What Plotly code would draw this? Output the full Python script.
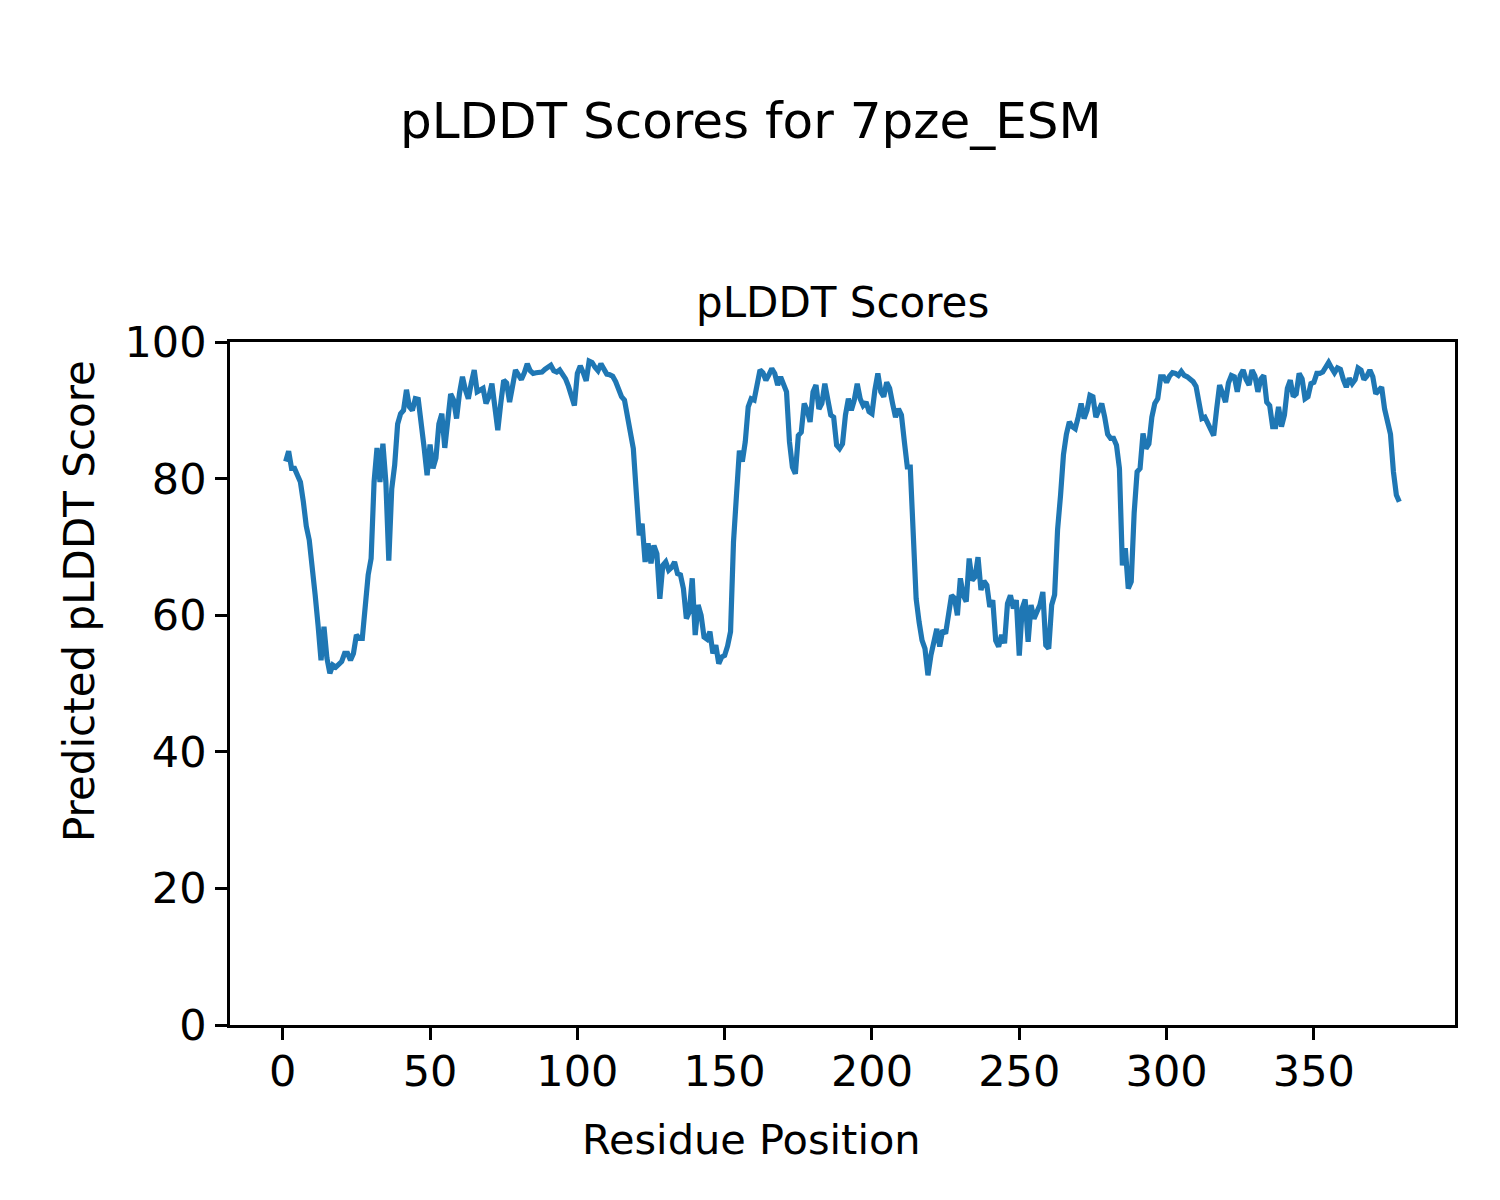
import plotly.graph_objects as go

residues = list(range(1, 380))
plddt = [
    82.5, 84.0, 81.5, 81.5, 80.5, 79.5, 76.6, 73.0, 71.0, 66.0,
    63.0, 58.5, 53.4, 58.3, 53.7, 51.5, 52.7, 52.4, 52.9, 53.2,
    54.4, 54.4, 53.4, 54.4, 57.1, 56.6, 56.6, 62.4, 65.9, 68.3,
    79.5, 84.5, 79.5, 85.1, 79.5, 68.0, 78.5, 82.0, 88.0, 89.5,
    90.0, 93.0, 90.5, 90.0, 91.7, 91.6, 88.5, 84.5, 80.5, 85.0,
    81.5, 83.0, 88.0, 89.5, 84.5, 89.0, 92.4, 91.5, 88.8, 92.5,
    94.9, 93.0, 91.7, 94.0, 95.9, 92.7, 93.0, 93.2, 91.0, 92.0,
    93.9, 90.0, 87.1, 91.0, 94.4, 94.0, 91.2, 93.5, 95.9, 95.2,
    94.5, 95.5, 96.8, 95.8, 95.4, 95.5, 95.6, 95.6, 96.0, 96.4,
    96.6, 95.8, 95.6, 95.9, 95.2, 94.6, 93.5, 92.3, 90.7, 95.4,
    96.5, 95.5, 94.3, 97.2, 97.0, 96.3, 95.8, 96.8, 96.0, 95.3,
    95.2, 95.0, 94.2, 93.0, 92.0, 91.5, 89.0, 86.5, 84.4, 78.0,
    71.7, 73.4, 67.8, 70.5, 67.6, 70.2, 69.0, 62.4, 67.3, 67.8,
    66.6, 67.0, 67.8, 66.1, 65.9, 63.9, 59.5, 60.5, 65.4, 57.1,
    61.5, 60.0, 56.8, 56.5, 57.6, 54.4, 55.6, 52.9, 53.9, 54.1,
    55.5, 57.6, 70.7, 77.5, 84.1, 82.5, 85.4, 90.5, 91.7, 91.5,
    93.5, 95.9, 95.5, 94.4, 95.2, 96.1, 95.4, 93.7, 94.9, 94.0,
    92.7, 85.4, 81.7, 80.7, 86.3, 86.8, 91.0, 90.0, 88.3, 92.7,
    93.7, 90.2, 91.0, 93.9, 91.7, 89.3, 89.0, 84.9, 84.4, 85.1,
    89.3, 91.7, 90.0, 91.5, 93.9, 91.7, 90.7, 91.2, 89.8, 89.5,
    93.0, 95.4, 92.7, 92.0, 94.1, 93.2, 91.0, 89.0, 90.2, 89.3,
    85.4, 81.7, 81.7, 72.7, 62.4, 59.0, 56.3, 55.1, 51.2, 54.1,
    56.0, 58.0, 55.4, 57.8, 57.3, 60.0, 62.9, 62.5, 60.0, 65.4,
    62.9, 62.0, 68.3, 65.1, 65.6, 68.5, 63.7, 65.0, 64.4, 61.2,
    62.2, 56.3, 55.4, 57.1, 55.9, 61.7, 62.9, 61.0, 62.2, 54.1,
    61.0, 62.3, 56.1, 61.5, 59.5, 60.5, 61.5, 63.4, 55.6, 55.1,
    61.5, 63.0, 72.5, 77.5, 83.5, 86.5, 88.3, 87.6, 87.3, 89.0,
    91.0, 88.8, 90.0, 92.2, 92.0, 89.0, 89.8, 91.0, 89.0, 86.5,
    85.9, 85.9, 84.9, 81.5, 67.3, 69.8, 63.9, 64.9, 75.0, 81.0,
    81.5, 86.6, 84.4, 85.1, 89.0, 91.0, 91.7, 94.9, 94.9, 94.1,
    95.0, 95.5, 95.4, 95.1, 95.7, 95.1, 94.9, 94.6, 94.2, 93.5,
    91.2, 88.8, 89.0, 88.0, 87.1, 86.3, 90.2, 93.7, 92.5, 91.2,
    94.0, 95.1, 94.9, 92.7, 95.1, 95.9, 94.5, 93.7, 95.9, 95.0,
    92.7, 94.6, 95.1, 91.2, 90.7, 87.6, 87.6, 90.5, 87.6, 89.3,
    93.2, 94.4, 92.0, 92.4, 95.4, 94.6, 91.7, 92.0, 93.9, 94.1,
    95.4, 95.4, 95.6, 96.2, 97.0, 96.2, 95.5, 96.2, 96.0, 94.5,
    93.4, 94.7, 93.9, 94.5, 96.2, 95.9, 94.5, 95.0, 95.9, 94.9,
    92.4, 92.9, 93.4, 90.2, 88.0, 86.5, 81.0, 77.6, 76.6,
]
x_ticks = [0, 50, 100, 150, 200, 250, 300, 350]
y_ticks = [0, 20, 40, 60, 80, 100]

suptitle = "pLDDT Scores for 7pze_ESM"
ax_title = "pLDDT Scores"
x_label = "Residue Position"
y_label = "Predicted pLDDT Score"

W, H = 1500, 1200
OFF = 7  # page body margin compensation
L, R, T, B = 229 - OFF, 1454 - OFF, 341 - OFF, 1024 - OFF
pw, ph = R - L, B - T

def px2paper(px, py):
    return (px - OFF - L) / pw, (B - (py - OFF)) / ph

font_family = "DejaVu Sans, sans-serif"

fig = go.Figure()
fig.add_trace(go.Scatter(
    x=residues, y=plddt, mode="lines",
    line=dict(color="#1f77b4", width=5.2),
    showlegend=False, hoverinfo="skip",
))

axis_common = dict(
    showline=True, linecolor="black", linewidth=2.8, mirror=True,
    showgrid=False, zeroline=False,
    ticks="outside", ticklen=12, tickwidth=2.8, tickcolor="black",
    tickfont=dict(family=font_family, size=43, color="black"),
)

fig.update_layout(
    width=W, height=H,
    margin=dict(l=L, r=W - R, t=T, b=H - B, pad=0),
    paper_bgcolor="white", plot_bgcolor="white",
    font=dict(family=font_family, color="black"),
    xaxis=dict(range=[-17.9, 397.9], tickvals=x_ticks,
               ticktext=[str(v) for v in x_ticks],
               ticklabelstandoff=-6, **axis_common),
    yaxis=dict(range=[0, 100], tickvals=y_ticks,
               ticktext=[str(v) for v in y_ticks], **axis_common),
)

anns = [
    (suptitle, 750, 120, 50, 0),
    (ax_title, (229 + 1454) / 2, 302, 42, 0),
    (x_label, 750, 1138, 41.5, 0),
    (y_label, 78, 600, 42, -90),
]
for text, px, py, size, ang in anns:
    ax, ay = px2paper(px, py)
    fig.add_annotation(
        text=text, x=ax, y=ay, xref="paper", yref="paper",
        xanchor="center", yanchor="middle", showarrow=False,
        textangle=ang, font=dict(family=font_family, size=size, color="black"),
    )

fig.write_html("out.html")
